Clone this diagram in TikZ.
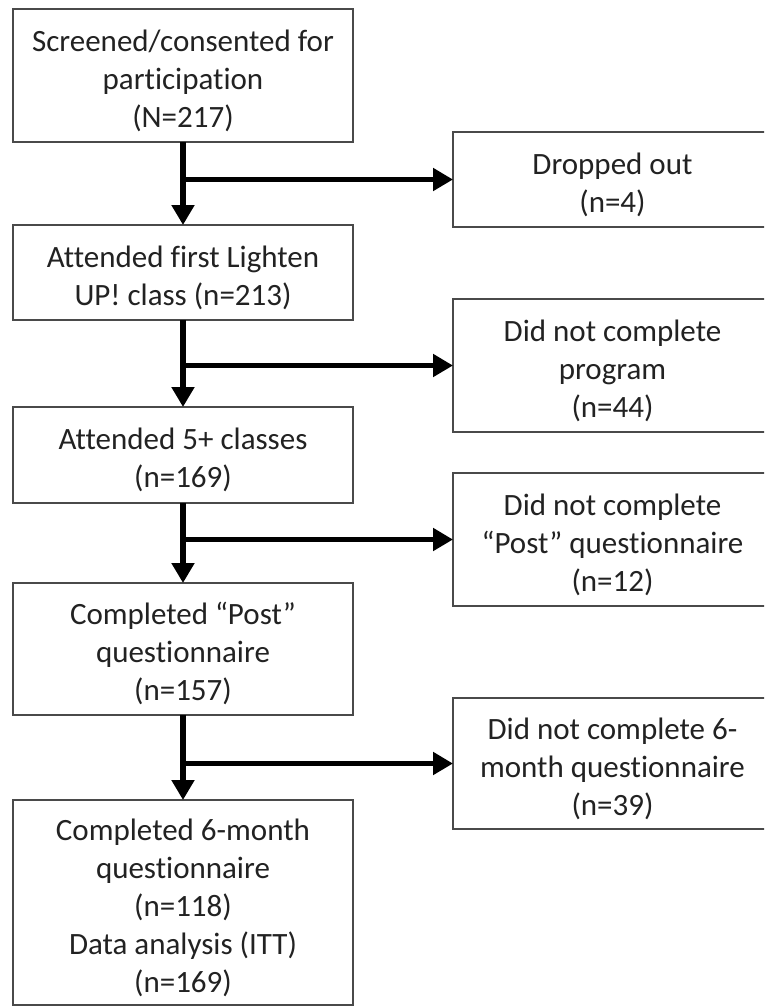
\documentclass[tikz,border=0pt]{standalone}
\usepackage{fontspec}
\setmainfont{Carlito}[Ligatures=NoCommon]
\usetikzlibrary{arrows.meta}
\definecolor{txt}{HTML}{222222}
\definecolor{edge}{HTML}{4A4A4A}
\newcommand\dn[1]{\raisebox{-6pt}[\height][\depth]{\begin{tabular}{@{}c@{}}#1\end{tabular}}}
\begin{document}
\begin{tikzpicture}[x=1pt,y=-1pt,
  box/.style={draw=edge, line width=2pt, fill=white, align=center, text=txt,
    font=\fontsize{31}{38}\selectfont, inner sep=0pt, outer sep=0pt},
  lbox/.style={box, minimum width=340pt},
  rbox/.style={box, minimum width=319pt},
  arr/.style={line width=6pt, -{Triangle[width=22pt,length=20pt]}}]
\useasboundingbox (0,0) rectangle (764,1007);
\clip (0,0) rectangle (764,1007);
\fill[white] (0,0) rectangle (764,1007);
% left column
\node[lbox, minimum height=133pt] (b1) at (183,75.5) {\dn{Screened/consented for\\participation\\(N=217)}};
\node[lbox, minimum height=95pt] (b2) at (183,272.5) {\dn{Attended first Lighten\\UP! class (n=213)}};
\node[lbox, minimum height=96pt] (b3) at (183,455) {\dn{Attended 5+ classes\\(n=169)}};
\node[lbox, minimum height=132pt] (b4) at (183,649) {\dn{Completed “Post”\\questionnaire\\(n=157)}};
\node[lbox, minimum height=205pt] (b5) at (183,902.5) {\dn{Completed 6-month\\questionnaire\\(n=118)\\Data analysis (ITT)\\(n=169)}};
% right column
\node[rbox, minimum height=95pt] (r1) at (612.5,179.5) {\dn{Dropped out\\(n=4)}};
\node[rbox, minimum height=133pt] (r2) at (612.5,365.5) {\dn{Did not complete\\program\\(n=44)}};
\node[rbox, minimum height=133pt] (r3) at (612.5,539.5) {\dn{Did not complete\\“Post” questionnaire\\(n=12)}};
\node[rbox, minimum height=131pt] (r4) at (612.5,763.5) {\dn{Did not complete 6-\\month questionnaire\\(n=39)}};
% vertical arrows
\draw[arr] (b1) -- (b2);
\draw[arr] (b2) -- (b3);
\draw[arr] (b3) -- (b4);
\draw[arr] (b4) -- (b5);
% side arrows
\draw[arr, line width=5pt] (b1.south |- r1.west) -- (r1.west);
\draw[arr, line width=5pt] (b2.south |- r2.west) -- (r2.west);
\draw[arr, line width=5pt] (b3.south |- r3.west) -- (r3.west);
\draw[arr, line width=5pt] (b4.south |- r4.west) -- (r4.west);
\end{tikzpicture}
\end{document}
